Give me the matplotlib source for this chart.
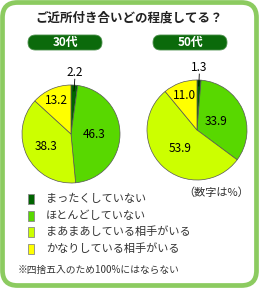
import numpy as np
import matplotlib
matplotlib.use("Agg")
import matplotlib.pyplot as plt
from matplotlib.patches import FancyBboxPatch, Rectangle

plt.rcParams["font.family"] = ["Noto Sans CJK JP", "DejaVu Sans"]

# data
title = "ご近所付き合いどの程度してる？"
groups = ["30代", "50代"]
categories = ["まったくしていない", "ほとんどしていない", "まあまあしている相手がいる", "かなりしている相手がいる"]
values_30 = [2.2, 46.3, 38.3, 13.2]
values_50 = [1.3, 33.9, 53.9, 11.0]
colors = ["#006400", "#58D800", "#CCFF00", "#FFFF00"]
unit_note = "（数字は%）"
footnote = "※四捨五入のため100%にはならない"

W, H = 259, 288
fig = plt.figure(figsize=(W / 100, H / 100), dpi=100)
ax = fig.add_axes([0, 0, 1, 1])
ax.set_xlim(0, W)
ax.set_ylim(H, 0)
ax.set_aspect("equal")
ax.axis("off")

# rounded green frame
ax.add_patch(FancyBboxPatch((2.5, 2.5), W - 5, H - 5, boxstyle="round,pad=0,rounding_size=15",
                            facecolor="white", edgecolor="#8CCB60", linewidth=3.4))

ax.text(W / 2, 18, title, ha="center", va="center", fontsize=9, fontweight="bold", color="#222222")

# pies: center, radius, pill x, label radial factors
pies = [
    (groups[0], values_30, (71, 134), 49, 65, [1.25, 0.47, 0.58, 0.74]),
    (groups[1], values_50, (197, 130), 50, 190, [1.26, 0.42, 0.5, 0.74]),
]

for name, vals, center, r, pill_x, dists in pies:
    ax.add_patch(FancyBboxPatch((pill_x - 37, 35), 74, 15, boxstyle="round,pad=0,rounding_size=7.5",
                                facecolor="#0B6A0B", edgecolor="#4A8F4A", linewidth=0.6))
    ax.text(pill_x, 42.5, name, ha="center", va="center", fontsize=8.5, fontweight="bold", color="white")

    wedges, _ = ax.pie(vals, colors=colors, center=center, radius=r, startangle=-90,
                       counterclock=True, frame=True,
                       wedgeprops=dict(edgecolor="#555555", linewidth=0.5))
    total = sum(vals)
    start = 0.0
    for v, d in zip(vals, dists):
        mid = (start + v / 2) / total * 2 * np.pi
        start += v
        dx, dy = np.sin(mid), -np.cos(mid)
        tx, ty = center[0] + dx * r * d, center[1] + dy * r * d
        if d > 1:
            ax.plot([center[0] + dx * r * 0.88, center[0] + dx * r * 1.12],
                    [center[1] + dy * r * 0.88, center[1] + dy * r * 1.12],
                    color="black", linewidth=0.6)
        ax.text(tx, ty, f"{v:.1f}", ha="center", va="center", fontsize=8.5, color="black")

ax.set_xlim(0, W)
ax.set_ylim(H, 0)

# legend
for i, (c, lab) in enumerate(zip(colors, categories)):
    y = 199 + i * 16.5
    ax.add_patch(Rectangle((28, y - 5), 6, 10, facecolor=c, edgecolor="#888888", linewidth=0.6))
    ax.text(46, y, lab, ha="left", va="center", fontsize=8, color="#333333")

ax.text(249, 193, unit_note, ha="right", va="center", fontsize=8, color="#333333")
ax.text(18, 270, footnote, ha="left", va="center", fontsize=7, color="#333333")

fig.savefig("out.png", dpi=100)
